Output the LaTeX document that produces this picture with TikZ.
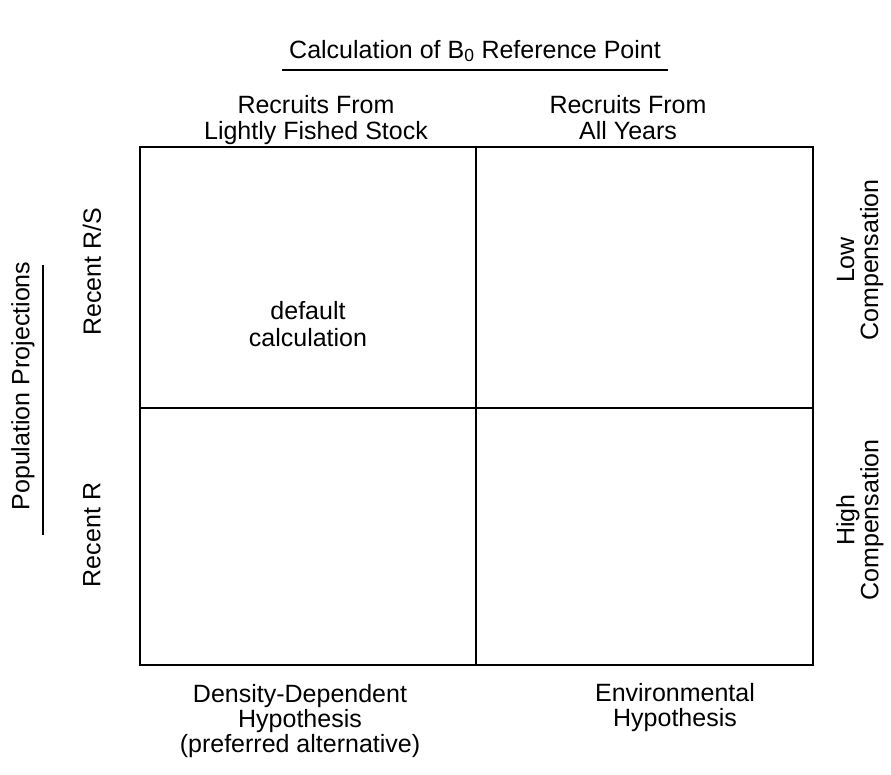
\documentclass[tikz,border=0pt]{standalone}
\usepackage{fontspec}
\setmainfont{Liberation Sans}
\begin{document}
\begin{tikzpicture}[x=1pt,y=-1pt,
  lbl/.style={inner sep=0pt, align=center, font=\fontsize{25}{25}\selectfont},
  head/.style={lbl, font=\fontsize{25}{26}\selectfont},
  vlbl/.style={lbl, rotate=90, font=\fontsize{25}{24}\selectfont},
  frame/.style={line width=2.8pt, line cap=rect},
  uline/.style={line width=1.8pt}]
\useasboundingbox (0,0) rectangle (891,774);
% title
\node[lbl, anchor=base] (title) at (475,58) {Calculation of B\textsubscript{0} Reference Point};
\draw[uline] (282,70) -- (668,70);
% column headings
\node[head] (colA) at (316,120) {Recruits From\\Lightly Fished Stock};
\node[head] (colB) at (628,118) {Recruits From\\All Years};
% grid
\draw[frame] (140,147) rectangle (813,665);
\draw[frame] (476,147) -- (476,665);
\draw[frame] (140,408) -- (813,408);
% cell text
\node[lbl, font=\fontsize{25}{27}\selectfont] (def) at (308,324) {default\\calculation};
% left labels
\node[lbl, rotate=90] (pop) at (23,386) {Population Projections};
\draw[uline] (43,265) -- (43,535);
\node[lbl, rotate=90] (rrs) at (92,272) {Recent R/S};
\node[lbl, rotate=90] (rr) at (92,535) {Recent R};
% right labels
\node[vlbl] (low) at (860,260) {Low\\Compensation};
\node[vlbl] (high) at (860,520) {High\\Compensation};
% bottom labels
\node[lbl] (dd) at (300,721) {Density-Dependent\\Hypothesis\\(preferred alternative)};
\node[lbl] (env) at (675,708) {Environmental\\Hypothesis};
\end{tikzpicture}
\end{document}
